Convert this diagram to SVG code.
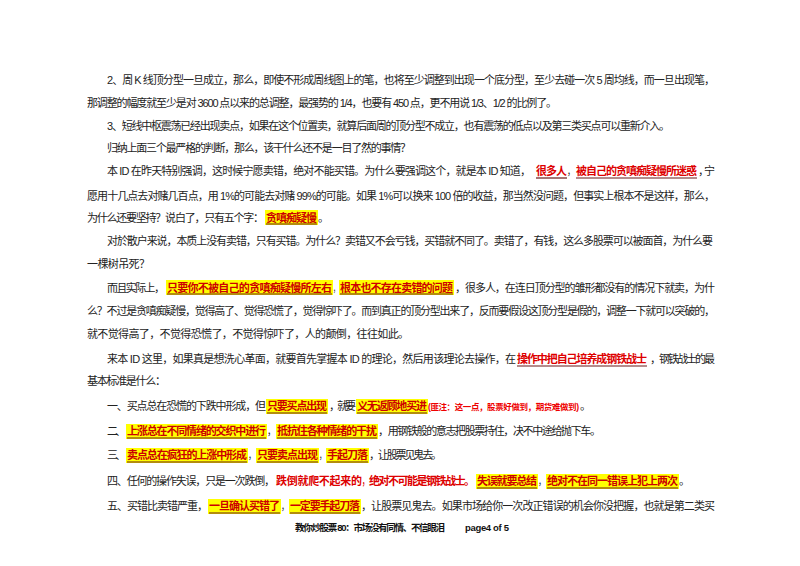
<svg xmlns="http://www.w3.org/2000/svg" width="800" height="566" viewBox="0 0 800 566">
<style>
text{font-family:"Liberation Sans","Noto Sans CJK SC",sans-serif;font-size:11px;fill:#222}
.r{fill:#d00;font-weight:bold}
.h{fill:#c00;font-weight:bold}
.c{fill:#e00;font-size:8.5px;font-weight:bold}
.f{font-size:9.5px;font-weight:bold;fill:#111}
.hl{fill:#ffff00}
.u{stroke:#6a1a1a;stroke-width:1.2}
</style>
<rect width="800" height="566" fill="#fff"/>
<g id="highlights">
<rect class="hl" x="265" y="210" width="53" height="15"/>
<rect class="hl" x="166" y="280" width="167" height="15"/>
<rect class="hl" x="339" y="280" width="115" height="15"/>
<rect class="hl" x="266" y="399" width="62" height="15"/>
<rect class="hl" x="356" y="399" width="72" height="15"/>
<rect class="hl" x="126" y="424" width="141" height="15"/>
<rect class="hl" x="276" y="424" width="102" height="15"/>
<rect class="hl" x="126" y="448" width="122" height="15"/>
<rect class="hl" x="256" y="448" width="63" height="15"/>
<rect class="hl" x="326" y="448" width="43" height="15"/>
<rect class="hl" x="476" y="474" width="62" height="15"/>
<rect class="hl" x="546" y="474" width="133" height="15"/>
<rect class="hl" x="208" y="499" width="73" height="15"/>
<rect class="hl" x="289" y="499" width="72" height="15"/>
</g>
<g id="underlines">
<line class="u" x1="536" y1="178" x2="567" y2="178"/>
<line class="u" x1="576" y1="178" x2="697" y2="178"/>
<line class="u" x1="266" y1="224" x2="317" y2="224"/>
<line class="u" x1="167" y1="294" x2="332" y2="294"/>
<line class="u" x1="340" y1="294" x2="453" y2="294"/>
<line class="u" x1="517" y1="366" x2="647" y2="366"/>
<line class="u" x1="267" y1="413" x2="327" y2="413"/>
<line class="u" x1="357" y1="413" x2="427" y2="413"/>
<line class="u" x1="127" y1="438" x2="266" y2="438"/>
<line class="u" x1="277" y1="438" x2="377" y2="438"/>
<line class="u" x1="127" y1="462" x2="247" y2="462"/>
<line class="u" x1="257" y1="462" x2="318" y2="462"/>
<line class="u" x1="327" y1="462" x2="368" y2="462"/>
<line class="u" x1="477" y1="488" x2="537" y2="488"/>
<line class="u" x1="547" y1="488" x2="678" y2="488"/>
<line class="u" x1="209" y1="513" x2="280" y2="513"/>
<line class="u" x1="290" y1="513" x2="360" y2="513"/>
</g>
<g id="body">
<text x="107" y="84" textLength="608" lengthAdjust="spacing">2、周 K 线顶分型一旦成立，那么，即使不形成周线图上的笔，也将至少调整到出现一个底分型，至少去碰一次 5 周均线，而一旦出现笔，</text>
<text x="87" y="107" textLength="470" lengthAdjust="spacing">那调整的幅度就至少是对 3600 点以来的总调整，最强势的 1/4，也要有 450 点，更不用说 1/3、1/2 的比例了。</text>
<text x="107" y="130" textLength="563" lengthAdjust="spacing">3、短线中枢震荡已经出现卖点，如果在这个位置卖，就算后面周的顶分型不成立，也有震荡的低点以及第三类买点可以重新介入。</text>
<text x="107" y="152" textLength="304" lengthAdjust="spacing">归纳上面三个最严格的判断，那么，该干什么还不是一目了然的事情？</text>
<text x="107" y="175" textLength="424" lengthAdjust="spacing">本 ID 在昨天特别强调，这时候宁愿卖错，绝对不能买错。为什么要强调这个，就是本 ID 知道，</text>
<text class="r" x="536" y="175" textLength="31" lengthAdjust="spacing">很多人</text>
<text x="567" y="175" textLength="8" lengthAdjust="spacingAndGlyphs">，</text>
<text class="r" x="576" y="175" textLength="121" lengthAdjust="spacing">被自己的贪嗔痴疑慢所迷惑</text>
<text x="698" y="175" textLength="17" lengthAdjust="spacing">，宁</text>
<text x="87" y="200" textLength="628" lengthAdjust="spacing">愿用十几点去对赌几百点，用 1%的可能去对赌 99%的可能。如果 1%可以换来 100 倍的收益，那当然没问题，但事实上根本不是这样，那么，</text>
<text x="87" y="222" textLength="177" lengthAdjust="spacing">为什么还要坚持？说白了，只有五个字：</text>
<text class="h" x="266" y="222" textLength="51" lengthAdjust="spacing">贪嗔痴疑慢</text>
<text x="318" y="222">。</text>
<text x="107" y="245" textLength="606" lengthAdjust="spacing">对於散户来说，本质上没有卖错，只有买错。为什么？卖错又不会亏钱，买错就不同了。卖错了，有钱，这么多股票可以被面首，为什么要</text>
<text x="87" y="268" textLength="63" lengthAdjust="spacing">一棵树吊死？</text>
<text x="107" y="292" textLength="58" lengthAdjust="spacing">而且实际上，</text>
<text class="h" x="167" y="292" textLength="165" lengthAdjust="spacing">只要你不被自己的贪嗔痴疑慢所左右</text>
<text x="333" y="292" textLength="6" lengthAdjust="spacingAndGlyphs">，</text>
<text class="h" x="340" y="292" textLength="113" lengthAdjust="spacing">根本也不存在卖错的问题</text>
<text x="455" y="292" textLength="260" lengthAdjust="spacing">，很多人，在连日顶分型的雏形都没有的情况下就卖，为什</text>
<text x="87" y="315" textLength="628" lengthAdjust="spacing">么？不过是贪嗔痴疑慢，觉得高了、觉得恐慌了，觉得惊吓了。而到真正的顶分型出来了，反而要假设这顶分型是假的，调整一下就可以突破的，</text>
<text x="87" y="338" textLength="322" lengthAdjust="spacing">就不觉得高了，不觉得恐慌了，不觉得惊吓了，人的颠倒，往往如此。</text>
<text x="107" y="363" textLength="409" lengthAdjust="spacing">来本 ID 这里，如果真是想洗心革面，就要首先掌握本 ID 的理论，然后用该理论去操作，在</text>
<text class="r" x="517" y="363" textLength="130" lengthAdjust="spacing">操作中把自己培养成钢铁战士</text>
<text x="650" y="363" textLength="65" lengthAdjust="spacing">，钢铁战士的最</text>
<text x="87" y="385" textLength="79" lengthAdjust="spacing">基本标准是什么：</text>
<text x="107" y="410" textLength="159" lengthAdjust="spacing">一、买点总在恐慌的下跌中形成，但</text>
<text class="h" x="267" y="410" textLength="60" lengthAdjust="spacing">只要买点出现</text>
<text x="329" y="410" textLength="27" lengthAdjust="spacing">，就要</text>
<text class="h" x="357" y="410" textLength="70" lengthAdjust="spacing">义无返顾地买进</text>
<text class="c" x="428" y="410" textLength="151" lengthAdjust="spacing">(匪注：这一点，股票好做到，期货难做到)</text>
<text x="580" y="410">。</text>
<text x="107" y="435" textLength="19" lengthAdjust="spacing">二、</text>
<text class="h" x="127" y="435" textLength="139" lengthAdjust="spacing">上涨总在不同情绪的交织中进行</text>
<text x="267" y="435" textLength="9" lengthAdjust="spacingAndGlyphs">，</text>
<text class="h" x="277" y="435" textLength="100" lengthAdjust="spacing">抵抗住各种情绪的干扰</text>
<text x="378" y="435" textLength="223" lengthAdjust="spacing">，用钢铁般的意志把股票持住，决不中途给抛下车。</text>
<text x="107" y="459" textLength="19" lengthAdjust="spacing">三、</text>
<text class="h" x="127" y="459" textLength="120" lengthAdjust="spacing">卖点总在疯狂的上涨中形成</text>
<text x="248" y="459" textLength="8" lengthAdjust="spacingAndGlyphs">，</text>
<text class="h" x="257" y="459" textLength="61" lengthAdjust="spacing">只要卖点出现</text>
<text x="319" y="459" textLength="7" lengthAdjust="spacingAndGlyphs">，</text>
<text class="h" x="327" y="459" textLength="41" lengthAdjust="spacing">手起刀落</text>
<text x="369" y="459" textLength="73" lengthAdjust="spacing">，让股票见鬼去。</text>
<text x="107" y="485" textLength="168" lengthAdjust="spacing">四、任何的操作失误，只是一次跌倒，</text>
<text class="r" x="276" y="485" textLength="86" lengthAdjust="spacing">跌倒就爬不起来的</text>
<text class="r" x="362" y="485" textLength="6" lengthAdjust="spacingAndGlyphs">，</text>
<text class="r" x="369" y="485" textLength="106" lengthAdjust="spacing">绝对不可能是钢铁战士。</text>
<text class="h" x="477" y="485" textLength="60" lengthAdjust="spacing">失误就要总结</text>
<text x="538" y="485" textLength="8" lengthAdjust="spacingAndGlyphs">，</text>
<text class="h" x="547" y="485" textLength="131" lengthAdjust="spacing">绝对不在同一错误上犯上两次</text>
<text x="679" y="485">。</text>
<text x="107" y="510" textLength="101" lengthAdjust="spacing">五、买错比卖错严重，</text>
<text class="h" x="209" y="510" textLength="71" lengthAdjust="spacing">一旦确认买错了</text>
<text x="281" y="510" textLength="8" lengthAdjust="spacingAndGlyphs">，</text>
<text class="h" x="290" y="510" textLength="70" lengthAdjust="spacing">一定要手起刀落</text>
<text x="361" y="510" textLength="354" lengthAdjust="spacing">，让股票见鬼去。如果市场给你一次改正错误的机会你没把握，也就是第二类买</text>
</g>
<g id="footer">
<text class="f" x="295" y="531" textLength="150" lengthAdjust="spacing">教你炒股票 80：市场没有同情、不信眼泪</text>
<text class="f" x="465" y="531" textLength="44" lengthAdjust="spacing">page4 of 5</text>
</g>
</svg>
